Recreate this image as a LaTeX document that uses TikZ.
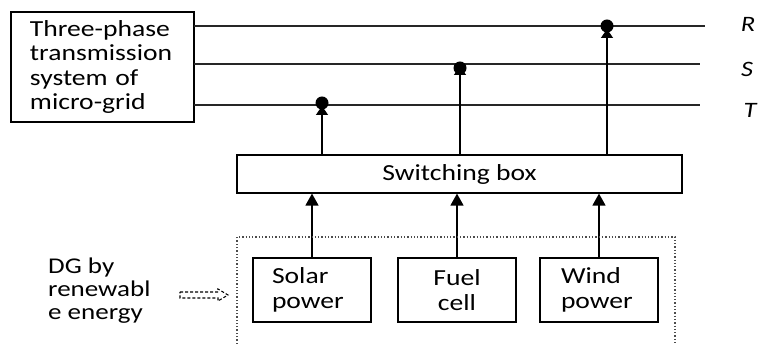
\documentclass[tikz,border=0pt]{standalone}
\usepackage{fontspec}
\setmainfont{Carlito}[FakeStretch=1.2]
\usetikzlibrary{arrows.meta}
\begin{document}
\begin{tikzpicture}[x=1pt,y=-1pt,
  box/.style={draw, line width=1.2pt, inner sep=0pt, font=\fontsize{23}{24.5}\selectfont},
  bus/.style={line width=1.3pt, black!85},
  feed/.style={line width=1.4pt, -{Triangle[width=13pt,length=12pt]}},
  tap/.style={line width=1.4pt, -{Triangle[width=12pt,length=9pt]}},
  lab/.style={font=\fontsize{22}{24}\selectfont\itshape},
  dot/.style={fill=black}]
\useasboundingbox (0,0) rectangle (761,344);
% left box
\node[box, minimum width=183pt, minimum height=110pt, text width=145pt, align=left] (grid) at (102.5,67) {Three-phase\\transmission\\system of\\micro-grid};
% bus lines
\coordinate (R0) at (194,26); \coordinate (R1) at (705,26);
\coordinate (S0) at (194,64); \coordinate (S1) at (700,64);
\coordinate (T0) at (194,105); \coordinate (T1) at (700,105);
\draw[bus] (R0) -- (R1);
\draw[bus] (S0) -- (S1);
\draw[bus] (T0) -- (T1);
\node[lab] (lR) at (748,24) {R};
\node[lab] (lS) at (747,69) {S};
\node[lab] (lT) at (750,110) {T};
% switching box
\node[box, minimum width=445pt, minimum height=38pt] (sw) at (459.5,174) {Switching box};
% source boxes
\node[box, minimum width=118pt, minimum height=64pt, text width=80pt, align=left] (solar) at (312,290) {Solar\\power};
\node[box, minimum width=118pt, minimum height=64pt, align=center] (fuel) at (457,290) {Fuel\\cell};
\node[box, minimum width=118pt, minimum height=64pt, text width=76pt, align=left] (wind) at (599,290) {Wind\\power};
% feeds from sources
\draw[feed] (solar.north) -- (solar.north |- sw.south);
\draw[feed] (fuel.north) -- (fuel.north |- sw.south);
\draw[feed] (wind.north) -- (wind.north |- sw.south);
% taps to bus lines
\coordinate (tT) at (322,106); \coordinate (tS) at (460,66); \coordinate (tR) at (607,29);
\draw[tap] (tT |- sw.north) -- (tT);
\draw[tap] (tS |- sw.north) -- (tS);
\draw[tap] (tR |- sw.north) -- (tR);
\fill[dot] (322,103) circle (6.5);
\fill[dot] (460,68) circle (6.5);
\fill[dot] (607,26) circle (6.5);
% dotted group
\draw[dotted, line width=1.3pt, black!70] (237,344) -- (237,237) -- (675,237) -- (675,344);
% DG label
\node[font=\fontsize{22.5}{23}\selectfont, align=left, anchor=west, inner sep=0pt] (dg) at (48,291) {DG by\\renewabl\\e energy};
% dashed block arrow
\draw[dashed, dash pattern=on 3pt off 2pt, line width=1.1pt, black]
  (180,292) -- (218,292) -- (218,289) -- (228,295) -- (218,301) -- (218,298) -- (180,298) -- cycle;
\end{tikzpicture}
\end{document}
